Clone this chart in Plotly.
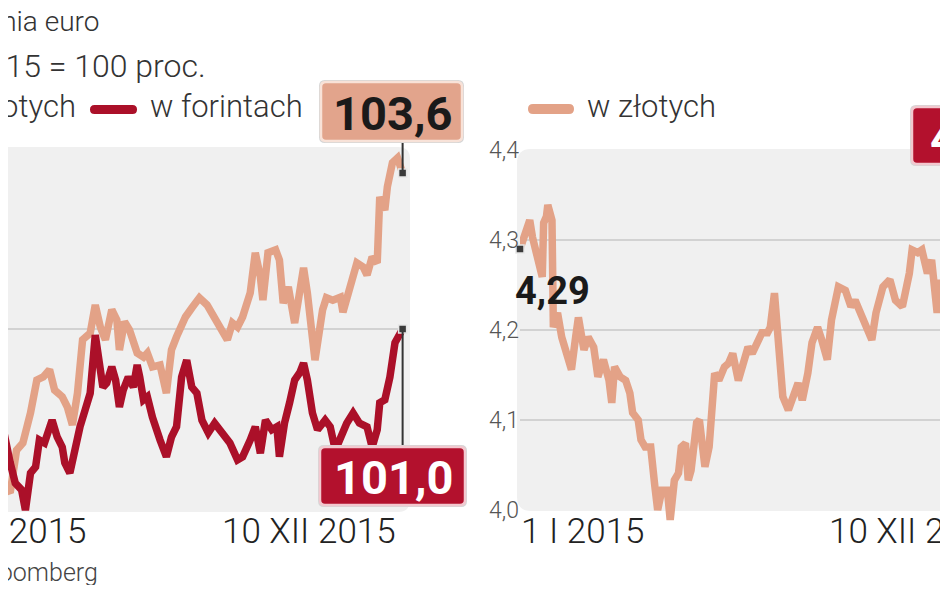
import pandas as pd
import plotly.graph_objects as go

BASE = pd.Timestamp("2015-01-01")

# ---------------- data ----------------
# left panel: index (1 I 2015 = 100), x = days since 1 I 2015
pln_days = [26, 34, 39, 44, 50, 55, 60, 65, 69, 75, 79, 83, 87, 91, 97, 101, 105, 109, 114, 118,
            120, 124, 128, 134, 139, 142, 146, 152, 157, 161, 165, 172, 177, 183, 189, 197, 205, 209,
            213, 217, 223, 227, 231, 233, 237, 243, 246, 249, 253, 258, 261, 265, 268, 274, 280, 283,
            288, 294, 296, 302, 307, 312, 315, 319, 323, 325, 329, 331, 335, 339, 343]
pln_index = [98.43, 98.27, 98.98, 99.10, 99.60, 100.15, 100.20, 100.32, 99.98, 99.87, 99.70, 99.40,
             99.93, 100.82, 100.93, 101.40, 101.03, 100.82, 101.32, 101.15, 100.65, 101.12, 100.98,
             100.60, 100.53, 100.60, 100.37, 100.40, 99.93, 100.65, 100.87, 101.20, 101.35, 101.52,
             101.40, 101.10, 100.82, 101.10, 101.03, 101.20, 101.60, 102.27, 101.87, 101.48, 102.27,
             102.32, 102.15, 101.43, 101.70, 101.10, 101.60, 102.02, 101.60, 100.48, 101.32, 101.52,
             101.48, 101.53, 101.28, 101.70, 102.10, 102.03, 101.90, 102.20, 102.10, 103.20, 102.98,
             103.37, 103.77, 103.85, 103.60]

huf_days = [26, 30, 34, 38, 43, 46, 50, 54, 57, 61, 67, 71, 75, 77, 81, 85, 89, 93, 97, 101, 105,
            107, 110, 114, 117, 120, 123, 127, 131, 134, 136, 139, 142, 146, 152, 157, 161, 165, 169,
            173, 177, 181, 185, 190, 195, 201, 207, 213, 217, 223, 227, 231, 235, 240, 244, 246, 250,
            254, 258, 262, 265, 268, 272, 276, 282, 286, 290, 299, 304, 309, 315, 319, 323, 325, 329,
            333, 337, 343]
huf_index = [99.15, 99.18, 98.77, 98.43, 98.32, 97.98, 98.60, 98.70, 99.15, 99.10, 99.48, 99.20,
             99.03, 98.77, 98.60, 99.03, 99.37, 99.65, 99.93, 100.90, 100.37, 100.03, 100.10, 100.37,
             100.15, 99.70, 99.98, 100.20, 100.03, 100.40, 100.20, 99.82, 99.87, 99.53, 99.15, 98.87,
             99.20, 99.37, 100.20, 100.48, 100.03, 99.93, 99.48, 99.27, 99.43, 99.27, 99.10, 98.82,
             98.87, 99.15, 99.37, 98.93, 99.48, 99.32, 99.37, 98.87, 99.43, 99.77, 100.15, 100.27,
             100.43, 100.15, 99.60, 99.32, 99.48, 99.37, 98.98, 99.43, 99.60, 99.43, 99.37, 99.03,
             99.32, 99.77, 99.82, 100.20, 100.77, 101.00]

# right panel: EUR/PLN, x = days since 1 I 2015
eur_days = [0, 4, 7, 9, 13, 16, 17, 19, 20, 23, 24, 27, 30, 34, 37, 40, 42, 46, 49, 53, 56, 60, 64,
            66, 68, 72, 76, 79, 81, 85, 87, 90, 94, 97, 99, 102, 106, 108, 111, 114, 116, 119, 121,
            123, 127, 129, 133, 136, 140, 143, 147, 150, 153, 157, 161, 164, 167, 171, 174, 178, 180,
            183, 186, 189, 193, 196, 200, 203, 207, 210, 214, 217, 221, 224, 229, 234, 238, 241, 246,
            249, 253, 256, 261, 266, 270, 275, 280, 282, 286, 289, 293, 296, 300, 302]
eur_pln = [4.290, 4.308, 4.322, 4.303, 4.274, 4.259, 4.319, 4.326, 4.339, 4.322, 4.203, 4.219, 4.192,
           4.170, 4.156, 4.192, 4.214, 4.178, 4.192, 4.181, 4.148, 4.167, 4.144, 4.119, 4.159, 4.148,
           4.144, 4.130, 4.108, 4.100, 4.078, 4.070, 4.070, 4.026, 4.000, 4.022, 4.022, 3.989, 4.033,
           4.041, 4.070, 4.074, 4.033, 4.044, 4.097, 4.100, 4.048, 4.070, 4.152, 4.144, 4.159, 4.163,
           4.174, 4.144, 4.170, 4.181, 4.174, 4.186, 4.197, 4.197, 4.203, 4.241, 4.181, 4.126, 4.111,
           4.126, 4.141, 4.122, 4.152, 4.186, 4.203, 4.189, 4.167, 4.211, 4.248, 4.244, 4.226, 4.233,
           4.214, 4.208, 4.189, 4.219, 4.248, 4.256, 4.233, 4.226, 4.263, 4.289, 4.286, 4.289, 4.263,
           4.278, 4.219, 4.256]

x_tick_labels = ["1 I 2015", "10 XII 2015"]
right_y_ticks = [4.0, 4.1, 4.2, 4.3, 4.4]
right_grid = [4.1, 4.2, 4.3]
left_grid = [101]
right_end_label = "4,34"

title = "Notowania euro"
subtitle = "1 I 2015 = 100 proc."
legend_pln = "w złotych"
legend_huf = "w forintach"
source = "Źródło: Bloomberg"

# ---------------- style ----------------
OFF = 8                 # page body margin
FW, FH = 948 - 2 * OFF, 593 - 2 * OFF
TAN = "#e3a287"
RED = "#ab1029"
BG = "#f0f0f0"
GRID = "#d2d2d2"
FONT = "Roboto"
LW = 7.5


def to_date(d):
    return BASE + pd.Timedelta(days=float(d))


def X(p):
    return (p - OFF) / FW


def Y(p):
    return 1 - (p - OFF) / FH


def rrect(x0, y0, x1, y1, r):
    def P(x, y):
        return f"{X(x):.5f},{Y(y):.5f}"
    return (f"M {P(x0 + r, y0)} L {P(x1 - r, y0)} Q {P(x1, y0)} {P(x1, y0 + r)} "
            f"L {P(x1, y1 - r)} Q {P(x1, y1)} {P(x1 - r, y1)} L {P(x0 + r, y1)} "
            f"Q {P(x0, y1)} {P(x0, y1 - r)} L {P(x0, y0 + r)} Q {P(x0, y0)} {P(x0 + r, y0)} Z")


def fmt(v, n):
    return f"{v:.{n}f}".replace(".", ",")


pln_x = [to_date(d) for d in pln_days]
huf_x = [to_date(d) for d in huf_days]
eur_x = [to_date(d) for d in eur_days]

fig = go.Figure()
fig.add_trace(go.Scatter(x=pln_x, y=pln_index, mode="lines", line=dict(color=TAN, width=LW),
                         xaxis="x", yaxis="y", hoverinfo="skip"))
fig.add_trace(go.Scatter(x=huf_x, y=huf_index, mode="lines", line=dict(color=RED, width=LW),
                         xaxis="x", yaxis="y", hoverinfo="skip"))
fig.add_trace(go.Scatter(x=eur_x, y=eur_pln, mode="lines", line=dict(color=TAN, width=LW),
                         xaxis="x2", yaxis="y2", hoverinfo="skip"))
mk = dict(symbol="square", size=8, color="#3a3a3a", line=dict(color="#e6e6e6", width=1.5))
fig.add_trace(go.Scatter(x=[pln_x[-1], huf_x[-1]], y=[pln_index[-1], huf_index[-1]], mode="markers",
                         marker=mk, cliponaxis=False, xaxis="x", yaxis="y", hoverinfo="skip"))
fig.add_trace(go.Scatter(x=[eur_x[0]], y=[eur_pln[0]], mode="markers", marker=mk, cliponaxis=False,
                         xaxis="x2", yaxis="y2", hoverinfo="skip"))

shapes = [
    dict(type="path", xref="paper", yref="paper", path=rrect(-20, 147, 410, 512, 12),
         fillcolor=BG, line=dict(width=0), layer="below"),
    dict(type="path", xref="paper", yref="paper", path=rrect(517, 149, 1010, 511, 14),
         fillcolor=BG, line=dict(width=0), layer="below"),
]
for g in left_grid:
    shapes.append(dict(type="line", xref="x domain", yref="y", x0=0, x1=0.985, y0=g, y1=g,
                       line=dict(color=GRID, width=2), layer="below"))
for g in right_grid:
    shapes.append(dict(type="line", xref="x2 domain", yref="y2", x0=0, x1=1, y0=g, y1=g,
                       line=dict(color=GRID, width=2), layer="below"))
# legend keys
shapes.append(dict(type="path", xref="paper", yref="paper", path=rrect(90, 105, 137, 114, 4.5),
                   fillcolor=RED, line=dict(width=0)))
shapes.append(dict(type="path", xref="paper", yref="paper", path=rrect(528, 104, 574, 114, 5),
                   fillcolor=TAN, line=dict(width=0)))
# value boxes
boxes = [((321, 82, 462, 141), "#e2a48c", "#f8e2d8"),
         ((320, 447, 465, 505), "#b3112d", "#f3c8cf"),
         ((912, 107, 1010, 164), "#b3112d", "#f3c8cf")]
for (x0, y0, x1, y1), fc, bc in boxes:
    shapes.append(dict(type="path", xref="paper", yref="paper", path=rrect(x0 - 2, y0 - 2, x1 + 2, y1 + 2, 6),
                       fillcolor="#d6d6d6", line=dict(width=0)))
    shapes.append(dict(type="path", xref="paper", yref="paper", path=rrect(x0, y0, x1, y1, 5),
                       fillcolor=fc, line=dict(color=bc, width=2.5)))

ann = []


def txt(text, x, y, xanchor, size=30, color="#333333", weight=300):
    ann.append(dict(text=text, x=X(x), y=Y(y), xref="paper", yref="paper", xanchor=xanchor,
                    yanchor="middle", showarrow=False,
                    font=dict(family=FONT, size=size, color=color, weight=weight)))


txt(title, 101, 21, "right", size=28)
txt(subtitle, 208, 66, "right", size=32)
txt(legend_pln, 78, 106, "right", size=31)
txt(legend_huf, 148, 106, "left", size=31)
txt(legend_pln, 585, 106, "left", size=31)
txt(source, 100, 572, "right", size=25, color="#444444")
# x tick labels
txt(x_tick_labels[0], 88, 531, "right", size=35, color="#222222")
txt(x_tick_labels[1], 398, 531, "right", size=35, color="#222222")
txt(x_tick_labels[0], 519, 531, "left", size=35, color="#222222")
txt(x_tick_labels[1], 827, 531, "left", size=35, color="#222222")
# value labels
txt(fmt(pln_index[-1], 1), 392, 113, "center", size=47, color="#1a1a1a", weight=700)
txt(fmt(huf_index[-1], 1), 393, 477, "center", size=47, color="#ffffff", weight=700)
txt(fmt(eur_pln[0], 2), 513, 291, "left", size=38, color="#1a1a1a", weight=700)
txt(right_end_label, 928, 137, "left", size=47, color="#ffffff", weight=700)

# leader lines from values to boxes
for xv, yv, ay in [(pln_x[-1], pln_index[-1], -32), (huf_x[-1], huf_index[-1], 118)]:
    ann.append(dict(text=" ", x=xv, y=yv, xref="x", yref="y", showarrow=True, arrowhead=0,
                    arrowwidth=2, arrowcolor="#333333", ax=0, ay=ay, font=dict(size=1),
                    standoff=3))

fig.update_layout(
    width=FW, height=FH, autosize=False,
    margin=dict(l=0, r=0, t=0, b=0, pad=0),
    paper_bgcolor="white", plot_bgcolor="rgba(0,0,0,0)",
    showlegend=False,
    xaxis=dict(domain=[0, X(412)], range=[to_date((OFF + 33) / 1.27), to_date((412 + 33) / 1.27)],
               visible=False, anchor="y"),
    yaxis=dict(domain=[Y(528), Y(150)], range=[97.683, 103.983], visible=False, anchor="x"),
    xaxis2=dict(domain=[X(520), 1], range=[to_date(0), to_date((948 - 520) / 1.417)],
                visible=False, anchor="y2"),
    yaxis2=dict(domain=[Y(528), Y(150)], range=[3.98, 4.4], anchor="x2",
                tickvals=right_y_ticks, ticktext=[fmt(v, 1) for v in right_y_ticks],
                showgrid=False, zeroline=False, showline=False, ticks="", automargin=False,
                tickfont=dict(family=FONT, size=23, color="#555555", weight=300)),
    shapes=shapes,
    annotations=ann,
)

fig.write_html("out.html")
